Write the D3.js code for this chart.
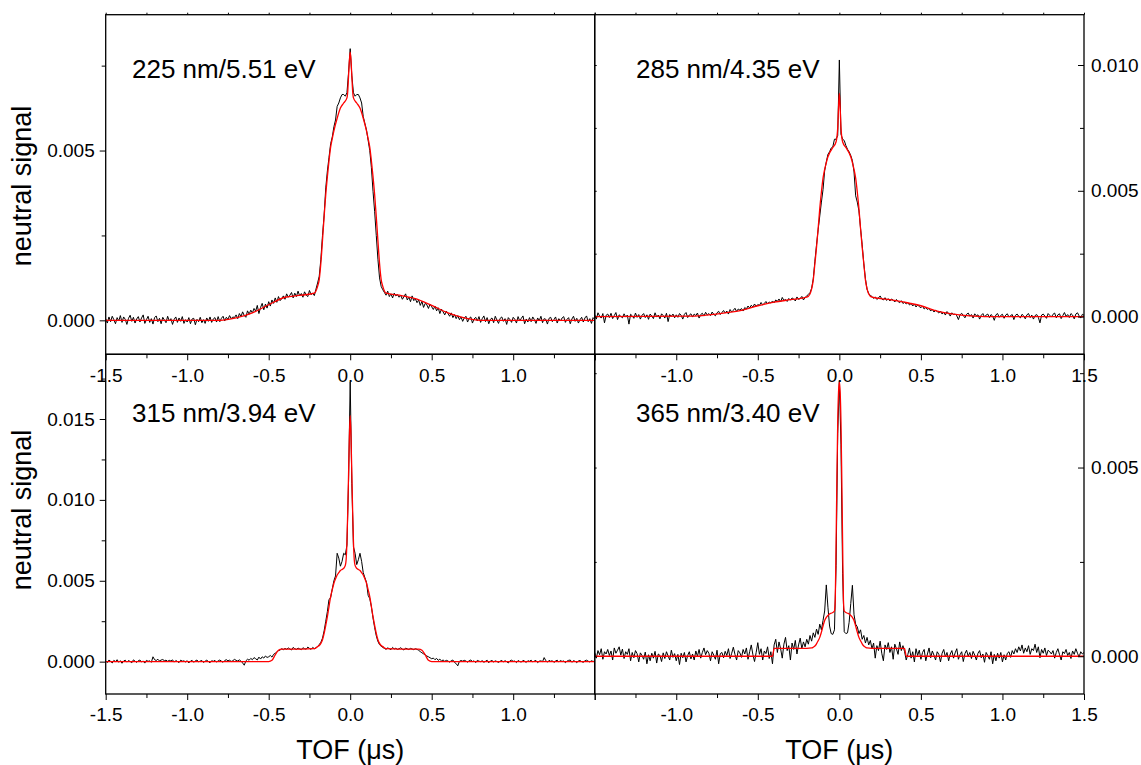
<!DOCTYPE html>
<html>
<head>
<meta charset="utf-8">
<script src="https://cdn.jsdelivr.net/npm/d3@7"></script>
<style>
  body { margin: 0; background: #fff; }
  svg { display: block; }
</style>
</head>
<body>
<svg id="chart" width="1141" height="765"></svg>
<script>
// TOF sampling times (µs), shared by the four measured traces
const tof = [
  -1.5,-1.49,-1.48,-1.47,-1.46,-1.45,-1.44,-1.43,-1.42,-1.41,
  -1.4,-1.39,-1.38,-1.37,-1.36,-1.35,-1.34,-1.33,-1.32,-1.31,
  -1.3,-1.29,-1.28,-1.27,-1.26,-1.25,-1.24,-1.23,-1.22,-1.21,
  -1.2,-1.19,-1.18,-1.17,-1.16,-1.15,-1.14,-1.13,-1.12,-1.11,
  -1.1,-1.09,-1.08,-1.07,-1.06,-1.05,-1.04,-1.03,-1.02,-1.01,
  -1.0,-0.99,-0.98,-0.97,-0.96,-0.95,-0.94,-0.93,-0.92,-0.91,
  -0.9,-0.89,-0.88,-0.87,-0.86,-0.85,-0.84,-0.83,-0.82,-0.81,
  -0.8,-0.79,-0.78,-0.77,-0.76,-0.75,-0.74,-0.73,-0.72,-0.71,
  -0.7,-0.69,-0.68,-0.67,-0.66,-0.65,-0.64,-0.63,-0.62,-0.61,
  -0.6,-0.59,-0.58,-0.57,-0.56,-0.55,-0.54,-0.53,-0.52,-0.51,
  -0.5,-0.49,-0.48,-0.47,-0.46,-0.45,-0.44,-0.43,-0.42,-0.41,
  -0.4,-0.39,-0.38,-0.37,-0.36,-0.35,-0.34,-0.33,-0.32,-0.31,
  -0.3,-0.29,-0.28,-0.27,-0.26,-0.25,-0.24,-0.23,-0.22,-0.21,
  -0.2,-0.19,-0.18,-0.17,-0.16,-0.15,-0.14,-0.13,-0.12,-0.11,
  -0.1,-0.09,-0.08,-0.07,-0.06,-0.05,-0.04,-0.03,-0.02,-0.01,
  0,
  0.01,0.02,0.03,0.04,0.05,0.06,0.07,0.08,0.09,0.1,
  0.11,0.12,0.13,0.14,0.15,0.16,0.17,0.18,0.19,0.2,
  0.21,0.22,0.23,0.24,0.25,0.26,0.27,0.28,0.29,0.3,
  0.31,0.32,0.33,0.34,0.35,0.36,0.37,0.38,0.39,0.4,
  0.41,0.42,0.43,0.44,0.45,0.46,0.47,0.48,0.49,0.5,
  0.51,0.52,0.53,0.54,0.55,0.56,0.57,0.58,0.59,0.6,
  0.61,0.62,0.63,0.64,0.65,0.66,0.67,0.68,0.69,0.7,
  0.71,0.72,0.73,0.74,0.75,0.76,0.77,0.78,0.79,0.8,
  0.81,0.82,0.83,0.84,0.85,0.86,0.87,0.88,0.89,0.9,
  0.91,0.92,0.93,0.94,0.95,0.96,0.97,0.98,0.99,1.0,
  1.01,1.02,1.03,1.04,1.05,1.06,1.07,1.08,1.09,1.1,
  1.11,1.12,1.13,1.14,1.15,1.16,1.17,1.18,1.19,1.2,
  1.21,1.22,1.23,1.24,1.25,1.26,1.27,1.28,1.29,1.3,
  1.31,1.32,1.33,1.34,1.35,1.36,1.37,1.38,1.39,1.4,
  1.41,1.42,1.43,1.44,1.45,1.46,1.47,1.48,1.49,1.5
];

// measured neutral signal, 225 nm
const sig225 = [
  0.00005,-0.00008,0.0001,-0.00004,0.00012,0.00002,-0.0001,0.00008,-0.00002,0.00014,
  -0.00006,0.0001,0.00003,-0.00012,0.00006,0.00015,-0.00003,0.00009,-0.00008,0.00004,
  0.00011,-0.00005,0.00007,0.00016,-0.00009,0.00002,0.00012,-0.00006,0.00005,-0.00011,
  0.00008,0.00013,-0.00004,0.00006,-0.0001,0.00009,0.00001,-0.00007,0.00012,-0.00002,
  0.00005,-0.00012,0.00003,0.0001,-0.00006,0.00007,-0.00003,0.00011,-0.00009,0.00002,
  -0.00005,0.00008,-0.0001,0.00004,0.00006,-0.00013,0.00003,-0.00004,0.00009,-0.00007,
  0.00002,-0.00009,0.00007,-0.00003,0.0001,-0.00006,0.00004,0.00008,-0.00005,0.00011,
  -0.00004,0.00006,0.00012,-0.00002,0.00009,0.00003,0.00014,0.00005,0.0001,0.00008,
  0.00016,0.00005,0.0002,0.00011,0.00025,0.00014,0.00009,0.00028,0.00018,0.0003,
  0.00022,0.00035,0.00027,0.00044,0.0002,0.00038,0.0005,0.00031,0.00048,0.00036,
  0.00055,0.00042,0.0006,0.0005,0.00066,0.00053,0.0007,0.00058,0.00064,0.00072,
  0.00062,0.00078,0.00068,0.00074,0.00082,0.00066,0.0008,0.0007,0.00086,0.00072,
  0.00079,0.00068,0.00084,0.00074,0.0007,0.00088,0.00076,0.0008,0.00073,0.00092,
  0.0011,0.0013,0.0018,0.0025,0.0031,0.0039,0.0044,0.0048,0.0052,0.0054,
  0.0057,0.0059,0.0063,0.0064,0.00655,0.00665,0.00665,0.0066,0.0067,0.0073,
  0.008,
  0.0072,0.0067,0.0066,0.00665,0.00665,0.00655,0.0064,0.006,0.0058,0.0056,
  0.0053,0.005,0.0045,0.0038,0.0032,0.0025,0.0018,0.00125,0.001,0.0009,
  0.00082,0.00074,0.00086,0.0007,0.00078,0.00066,0.0008,0.00072,0.00076,0.00068,
  0.00074,0.00062,0.0007,0.00078,0.0006,0.00068,0.00055,0.00072,0.00058,0.00063,
  0.00052,0.0006,0.00044,0.00056,0.00038,0.0005,0.00046,0.00035,0.00048,0.0004,
  0.00032,0.00042,0.00028,0.00037,0.0002,0.00033,0.00025,0.00016,0.00027,0.0002,
  0.00012,0.00022,0.00008,0.00017,0.00005,0.00014,0.00002,0.0001,-0.00003,0.00007,
  0.00012,-0.00005,0.00006,0.0001,-0.00008,0.00004,0.00009,-0.00002,0.00011,-0.00006,
  0.00005,0.00013,-0.00004,0.00008,-0.0001,0.00003,0.00007,-0.00007,0.00012,0.00001,
  -0.00009,0.00006,0.0001,-0.00003,0.00005,-0.00012,0.00008,0.00002,-0.00006,0.00009,
  0.00003,-0.00008,0.00011,-0.00002,0.00006,0.00013,-0.0001,0.00004,-0.00005,0.00008,
  -0.00004,0.0001,0.00002,-0.00009,0.00007,-0.00001,0.00012,-0.00007,0.00005,0.00003,
  -0.00011,0.00006,0.00009,-0.00004,0.00002,0.0001,-0.00008,0.00005,-0.00002,0.00007,
  0.00011,-0.00006,0.00003,0.00008,-0.0001,0.00004,0.00012,-0.00003,0.00006,-0.00008,
  0.00002,0.00009,-0.00005,0.00007,0.00013,-0.00004,0.00005,-0.00009,0.00008,0.00003
];

// measured neutral signal, 285 nm
const sig285 = [
  0.00008,-0.0001,0.00015,0.00002,-0.00006,0.00012,-0.00025,0.00005,0.0001,-0.00004,
  0.00013,-0.00008,0.00004,0.00016,-0.00012,0.00007,0.00001,-0.00005,0.00011,-0.00002,
  0.00006,-0.0003,0.00009,0.00003,-0.00007,0.00014,-0.00003,0.00008,-0.0001,0.00005,
  0.00012,-0.00004,0.00007,-0.00011,0.0001,0.00002,-0.00008,0.00015,-0.00002,0.00006,
  -0.00009,0.00011,0.00004,-0.00006,0.00013,-0.0002,0.00008,0.00001,0.0001,-0.00005,
  0.00007,-0.00003,0.00012,0.00005,-0.0001,0.00009,0.00016,-0.00004,0.00006,0.00011,
  -0.00002,0.0001,0.00004,0.00014,-0.00006,0.00008,0.00013,0.00002,0.00017,0.00006,
  0.00012,0.00004,0.00018,0.00009,0.00003,0.00015,0.00021,0.00008,0.00016,0.00024,
  0.00014,0.00022,0.0001,0.00028,0.00018,0.00025,0.00033,0.0002,0.0003,0.00026,
  0.00032,0.00022,0.00036,0.0003,0.00042,0.00034,0.00045,0.00038,0.0005,0.00041,
  0.00048,0.00044,0.00056,0.00046,0.00052,0.0006,0.0005,0.00058,0.00054,0.00062,
  0.00055,0.00066,0.0006,0.0007,0.00058,0.00076,0.00064,0.00068,0.0006,0.00072,
  0.00065,0.00074,0.0007,0.00062,0.00078,0.00068,0.00072,0.0008,0.00066,0.00076,
  0.00082,0.00088,0.00095,0.00112,0.0015,0.0022,0.00285,0.00345,0.004,0.00455,
  0.00505,0.0058,0.00615,0.00645,0.00655,0.0067,0.00675,0.00705,0.00705,0.0072,
  0.0102,
  0.00725,0.00705,0.007,0.0068,0.00665,0.00655,0.0064,0.0062,0.00575,0.0048,
  0.00455,0.0042,0.0035,0.00285,0.0021,0.0015,0.00108,0.00092,0.00084,0.0008,
  0.00072,0.00078,0.00068,0.00074,0.00082,0.0007,0.00066,0.00075,0.00064,0.00071,
  0.00062,0.0007,0.00065,0.00058,0.00068,0.0006,0.00055,0.00063,0.00052,0.00057,
  0.0005,0.00056,0.00046,0.00052,0.00042,0.0005,0.00038,0.00046,0.0004,0.00035,
  0.00042,0.0003,0.00036,0.00028,0.00033,0.00022,0.0003,0.00018,0.00025,0.0002,
  0.00014,0.00022,0.0001,0.00017,0.00006,0.0002,0.00012,0.00002,0.00015,0.00008,
  0.0001,0.00003,-0.00012,0.00007,0.00013,0.00004,-0.00005,0.00009,0.00014,0.00002,
  0.00008,-0.00006,0.00011,0.00003,0.00007,-0.0001,0.00005,0.00012,-0.00002,0.00006,
  0.0001,-0.00004,0.00008,0.00002,-0.00015,0.00007,0.00012,-0.00003,0.00005,0.00009,
  -0.00007,0.00006,0.00011,-0.00002,0.00004,0.00008,-0.00012,0.00005,0.0001,0.00001,
  -0.00005,0.00009,0.00003,-0.00009,0.00007,0.00012,-0.00004,0.00006,-0.0001,0.00004,
  0.00008,-0.00003,-0.00025,0.00006,0.0001,0.00002,-0.00007,0.00012,0.00005,-0.00002,
  0.00009,0.00014,-0.00005,0.00007,0.00011,-0.00008,0.00004,0.00016,0.00001,0.00008,
  -0.00004,0.00012,0.00006,-0.00009,0.0001,0.00015,0.00003,-0.00006,0.00009,0.00005
];

// measured neutral signal, 315 nm
const sig315 = [
  0.00005,-0.00006,0.0001,0.00002,-0.00008,0.00008,0,0.00012,-0.00004,0.00006,
  -0.0001,0.00004,0.00009,-0.00003,0.00007,0.00001,-0.00007,0.00011,0.00003,-0.00005,
  0.00006,0.0001,-0.00002,0.00004,-0.00009,0.00008,0.00002,0.00005,-0.00004,0.0003,
  0.00012,0.00007,0.00015,0.00004,0.0001,0.00013,0.00006,0.00009,0.00002,0.00008,
  0.00004,0.00011,-0.00003,0.00007,0.00001,-0.00006,0.00009,0.00003,0.00005,-0.00002,
  0.00006,-0.00008,0.00003,0.00008,-0.00004,0.00005,0.0001,-0.00002,0.00004,0.00007,
  -0.00005,0.00003,0.00009,0.00001,-0.00007,0.00006,0.00002,0.00008,-0.00003,0.00005,
  0.0001,0.00003,-0.00004,0.00007,0.00012,0.00005,0.00009,0.00001,0.00006,0.00014,
  0.00008,0.00004,0.00011,0.00003,-0.00008,-0.00022,0.00005,0.00015,0.00009,0.0002,
  0.00012,0.00025,0.00018,0.0001,0.00028,0.00016,0.0003,0.00022,0.00035,0.00026,
  0.0003,0.00038,0.00028,0.00045,0.00052,0.0006,0.00068,0.00072,0.0008,0.00074,
  0.00082,0.00076,0.00085,0.00078,0.00072,0.00088,0.0008,0.00075,0.00084,0.00079,
  0.00074,0.00086,0.0008,0.00077,0.0009,0.00082,0.00076,0.00088,0.0008,0.00085,
  0.00095,0.00105,0.0012,0.00145,0.0019,0.0025,0.0031,0.00385,0.00395,0.0045,
  0.005,0.0053,0.0067,0.0064,0.0059,0.0062,0.0067,0.0066,0.0072,0.0112,
  0.0173,
  0.011,0.0071,0.0067,0.006,0.0063,0.0067,0.0062,0.0055,0.0052,0.0049,
  0.0041,0.0039,0.0034,0.0027,0.0021,0.0016,0.00125,0.00105,0.00095,0.00088,
  0.00082,0.00076,0.00085,0.0008,0.00074,0.00088,0.00078,0.00083,0.00075,0.0008,
  0.00086,0.00077,0.00072,0.00084,0.00079,0.00075,0.00082,0.00078,0.00074,0.0008,
  0.00076,0.0007,0.00062,0.00055,0.00048,0.00042,0.00035,0.0003,0.00024,0.00018,
  0.00022,0.00012,0.0002,0.00008,0.00015,0.00005,0.0001,0.00002,0.00008,0.00004,
  -0.00003,0.00006,0.0001,-0.00005,-0.00012,-0.00026,0.00002,0.00007,0.00003,0.00008,
  0.00004,-0.00003,0.00006,0.0001,0.00001,0.00005,-0.00006,0.00008,0.00003,0,
  0.00006,-0.00004,0.00002,0.00009,-0.00007,0.00004,0.00007,-0.00002,0.00005,0.00001,
  -0.00005,0.00003,0.00008,-0.00002,0.00006,0,-0.00008,0.00005,0.00009,0.00002,
  0.00004,-0.00006,0.00007,0.00001,-0.00003,0.00008,0.00003,-0.00005,0.00006,0.00002,
  0.00009,-0.00002,0.00004,0.00007,-0.00006,0.00003,0.00005,0,0.00025,0.00006,
  -0.00003,0.00008,0.00002,0.00006,-0.00005,0.00004,0.00009,-0.00002,0.00007,0.00001,
  0.00005,-0.00007,0.00003,0.00008,0.0001,-0.00004,0.00006,0.00002,-0.00006,0.00004,
  0.00007,0,-0.00004,0.00005,0.00009,0.00003,-0.00002,0.00006,0.00001,0.00004
];

// measured neutral signal, 365 nm
const sig365 = [
  0.0001,-0.00005,0.00015,0.00004,0.0002,-0.00008,0.00012,0.00006,0.00018,0.00002,
  0.00014,-0.0001,0.00022,0.00008,0.00016,0.00025,0.00003,0.00019,-0.00006,0.00012,
  0.00005,0.0002,-0.00012,0.0001,-0.00004,0.00015,0.00007,-0.00015,0.00009,0.00002,
  -0.00008,0.00011,-0.0002,0.00004,-0.00012,0.00008,-0.00005,0.00013,-0.00018,0.00006,
  0.00002,-0.00014,0.00009,-0.00006,0.00012,0.00001,-0.0001,0.00016,-0.00003,0.00007,
  -0.00012,0.00005,-0.00022,0.00008,-0.00004,0.0001,-0.00015,0.00002,0.00012,-0.00007,
  0.00006,-0.0001,0.00014,0,0.00018,-0.00005,0.0001,0.00022,0.00004,0.00015,
  0.00008,-0.00012,0.00012,0.00003,-0.00008,0.00016,-0.0002,0.00007,0.0001,-0.00004,
  0.00013,0.00002,0.0002,-0.00006,0.00008,0.00024,0.00005,-0.0001,0.00015,0.00009,
  -0.00003,0.00018,0.00006,0.00022,-0.00008,0.00012,0.0003,0.00004,-0.00014,0.0001,
  0.00036,0.00005,0.0002,-0.0001,0.00014,0.00007,0.00025,-0.00006,0.00012,-0.0002,
  0.0003,0.00045,0.0001,0.00038,0.0002,-0.00005,0.00032,0.0005,0.00015,0.00028,
  -0.0001,0.00035,0.00018,0.00042,0.00006,0.0003,0.00048,0.0002,0.00038,0.00025,
  0.00045,0.00032,0.00055,0.0004,0.00062,0.0005,0.00072,0.00058,0.00085,0.0007,
  0.00095,0.0012,0.00189,0.0013,0.0008,0.0006,0.00058,0.0007,0.0024,0.0059,
  0.0073,
  0.0056,0.0022,0.00065,0.0006,0.00062,0.0009,0.0014,0.00188,0.0011,0.00085,
  0.00078,0.0006,0.0007,0.00045,0.00055,0.00035,0.0005,0.0003,0.00042,0.0002,
  0.00035,-0.00005,0.00028,0.00015,0.0004,0.00008,-0.00012,0.0003,0.00018,0.00036,
  0.0001,0.00025,-0.00008,0.00032,0.0002,0.00005,0.00038,0.00015,0.00028,0.00012,
  -0.0001,0.00005,0.00022,-0.00005,0.00012,-0.00015,0.0002,0.00002,0.00016,-0.00008,
  0.0001,0.00018,-0.00012,0.00006,0.00022,-0.00004,0.00014,0.00003,-0.0001,0.00012,
  0.00005,-0.00015,0.00008,0.00018,-0.00002,0.0001,-0.00012,0.00006,0.00015,-0.00005,
  0.00009,0.0002,-0.00008,0.00004,0.00012,-0.00014,0.00007,0.00016,0,0.0001,
  -0.00006,0.00013,0.00003,-0.0001,0.00008,0.00015,-0.00004,0.00006,-0.00016,0.0001,
  0.00002,-0.00008,0.00012,-0.0002,0.00005,-0.00012,0.00008,-0.00005,0.0001,-0.00015,
  0.00004,-0.0001,0.00008,0.00012,-0.00003,0.00015,0.00006,0.0002,0.0001,0.00025,
  0.00014,0.0003,0.00008,0.00022,0.00012,0.00028,0.00005,0.0002,0.00015,0.00032,
  0.0001,0.00025,-0.00004,0.00018,0.00008,0.00022,0.00002,0.00016,0.00012,0.00006,
  0.00015,-0.00005,0.0001,0.0002,0.00004,-0.0001,0.00012,0.00007,0.00018,0.00002,
  0.0001,-0.00006,0.00014,0.00005,0.0002,0.00008,-0.00002,0.00012,0.00006,0.0001
];

// fitted curves: TOF points where the fit was read, and the fit value there
const fitTof225 = [-1.5,-0.8,-0.7,-0.6,-0.5,-0.4,-0.3,-0.22,-0.2,
  -0.19,-0.18,-0.17,-0.16,-0.15,-0.14,-0.13,-0.12,-0.11,-0.1,
  -0.08,-0.06,-0.04,-0.02,-0.015,-0.01,-0.005,0,0.005,0.01,0.015,0.02,0.04,0.06,0.08,
  0.1,0.11,0.12,0.13,0.14,0.15,0.16,0.17,0.18,0.19,
  0.2,0.22,0.3,0.4,0.5,0.6,0.7,0.8,1.5];
const fit225 = [0,0,0.00007,0.00022,0.00046,0.00068,0.00074,0.0008,0.001,
  0.0012,0.00168,0.00235,0.00305,0.0037,0.00423,0.0047,0.0051,0.00535,0.00558,
  0.00595,0.00625,0.0064,0.00655,0.00675,0.0072,0.00765,0.0079,0.00765,0.0072,0.00675,0.00655,0.0064,0.00625,0.00595,
  0.00558,0.00535,0.0051,0.0047,0.00423,0.0037,0.00305,0.00235,0.00168,0.0012,
  0.001,0.0008,0.00074,0.00064,0.00044,0.00022,0.00007,0,0];

const fitTof285 = [-1.5,-0.9,-0.8,-0.7,-0.6,-0.5,-0.4,-0.3,-0.2,
  -0.18,-0.17,-0.16,-0.15,-0.14,-0.13,-0.12,-0.11,-0.1,-0.09,-0.08,-0.07,-0.06,
  -0.04,-0.02,-0.01,-0.005,0,0.005,0.01,0.02,0.04,
  0.06,0.07,0.08,0.09,0.1,0.11,0.12,0.13,0.14,0.15,0.16,0.17,0.18,
  0.2,0.3,0.4,0.5,0.6,0.7,0.8,0.9,1.5];
const fit285 = [0,0.00002,0.00007,0.00015,0.00025,0.00043,0.00057,0.00067,0.00077,
  0.0009,0.0011,0.00145,0.0021,0.00275,0.0035,0.0043,0.00495,0.0055,0.00585,0.00612,0.00635,0.0065,
  0.00672,0.00695,0.0075,0.0083,0.00888,0.0083,0.0075,0.00695,0.00672,
  0.0065,0.00635,0.00612,0.00585,0.0055,0.00495,0.0043,0.0035,0.00275,0.0021,0.00145,0.0011,0.0009,
  0.00077,0.00068,0.00057,0.00043,0.00022,0.0001,0.00003,0,0];

const fitTof315 = [-1.5,-0.5,-0.48,-0.46,-0.44,-0.42,-0.3,-0.22,-0.2,
  -0.19,-0.18,-0.17,-0.16,-0.15,-0.14,-0.13,-0.12,-0.11,-0.1,-0.09,-0.08,-0.07,-0.06,-0.05,-0.04,-0.03,
  -0.025,-0.02,-0.015,-0.01,-0.005,0,0.005,0.01,0.015,0.02,0.025,
  0.03,0.04,0.05,0.06,0.07,0.08,0.09,0.1,0.11,0.12,0.13,0.14,0.15,0.16,0.17,0.18,0.19,
  0.2,0.22,0.3,0.42,0.44,0.46,0.48,0.5,1.5];
const fit315 = [0,0,0.00008,0.00042,0.0007,0.00078,0.00078,0.0008,0.00093,
  0.001,0.00113,0.00135,0.00175,0.00225,0.00278,0.0034,0.00402,0.00445,0.00485,0.00512,0.00536,0.0055,0.00563,0.0057,0.00577,0.00595,
  0.0063,0.0074,0.0093,0.0116,0.0139,0.0152,0.0139,0.0116,0.0093,0.0074,0.0063,
  0.00595,0.00577,0.0057,0.00563,0.0055,0.00536,0.00512,0.00485,0.00445,0.00402,0.0034,0.00278,0.00225,0.00175,0.00135,0.00113,0.001,
  0.00093,0.0008,0.00078,0.00078,0.0007,0.00042,0.00008,0,0];

const fitTof365 = [-1.5,-0.41,-0.405,-0.4,-0.3,-0.2,
  -0.17,-0.16,-0.15,-0.14,-0.13,-0.12,-0.11,-0.1,-0.09,-0.08,-0.07,-0.06,-0.05,-0.04,-0.03,
  -0.025,-0.02,-0.015,-0.01,-0.005,0,0.005,0.01,0.015,0.02,0.025,
  0.03,0.04,0.05,0.06,0.07,0.08,0.09,0.1,0.11,0.12,0.13,0.14,0.15,0.16,0.17,
  0.2,0.3,0.4,0.405,0.41,1.5];
const fit365 = [0,0,0.0001,0.00021,0.00021,0.00021,
  0.00022,0.00024,0.00027,0.00033,0.00041,0.0005,0.00064,0.0008,0.00095,0.00103,0.00108,0.00112,0.00114,0.00116,0.0012,
  0.0015,0.003,0.0047,0.0062,0.007,0.00727,0.007,0.0062,0.0047,0.003,0.0015,
  0.0012,0.00116,0.00114,0.00112,0.00108,0.00103,0.00095,0.0008,0.00064,0.0005,0.00041,0.00033,0.00027,0.00024,0.00022,
  0.00021,0.00021,0.00021,0.0001,0,0];

// axis settings
const tofDomain = [-1.5, 1.5];
const xMajor = [-1.5, -1.0, -0.5, 0.0, 0.5, 1.0, 1.5];
const xMinor = [-1.25, -0.75, -0.25, 0.25, 0.75, 1.25];
const xLabelsLeft = [-1.5, -1.0, -0.5, 0.0, 0.5, 1.0];
const xLabelsRight = [-1.0, -0.5, 0.0, 0.5, 1.0, 1.5];
const yMajor = [0, 0.005, 0.01, 0.015];
const yMinor = [0.0025, 0.0075, 0.0125, 0.0175];
const yDomain225 = [-0.001, 0.009];
const yDomain285 = [-0.0015, 0.012];
const yDomain315 = [-0.002, 0.019];
const yDomain365 = [-0.001, 0.008];
const panelLabels = ["225 nm/5.51 eV", "285 nm/4.35 eV", "315 nm/3.94 eV", "365 nm/3.40 eV"];

const font = '"Liberation Sans", Arial, Helvetica, sans-serif';
const svg = d3.select("#chart");

// panel frames in pixels: columns and rows
const colX = [[105.7, 594.7], [594.7, 1084]];
const rowY = [[14.7, 354.3], [354.3, 694]];

const panels = [
  { t: tof, s: sig225, ft: fitTof225, f: fit225, yd: yDomain225, label: panelLabels[0], col: 0, row: 0 },
  { t: tof, s: sig285, ft: fitTof285, f: fit285, yd: yDomain285, label: panelLabels[1], col: 1, row: 0 },
  { t: tof, s: sig315, ft: fitTof315, f: fit315, yd: yDomain315, label: panelLabels[2], col: 0, row: 1 },
  { t: tof, s: sig365, ft: fitTof365, f: fit365, yd: yDomain365, label: panelLabels[3], col: 1, row: 1 }
];

const layers = {
  data: svg.append("g"),
  axes: svg.append("g"),
  frames: svg.append("g"),
  text: svg.append("g")
};

function styleAxis(sel) {
  sel.select(".domain").remove();
  sel.attr("font-size", 19).attr("font-family", font);
  sel.selectAll(".tick line").attr("stroke-width", 1);
}

panels.forEach((p, i) => {
  const [x0, x1] = colX[p.col];
  const [y0, y1] = rowY[p.row];
  const x = d3.scaleLinear().domain(tofDomain).range([x0, x1]);
  const y = d3.scaleLinear().domain(p.yd).range([y1, y0]);

  svg.append("clipPath").attr("id", "clip" + i)
    .append("rect").attr("x", x0).attr("y", y0).attr("width", x1 - x0).attr("height", y1 - y0);

  const g = layers.data.append("g").attr("clip-path", `url(#clip${i})`);

  // measured trace
  g.append("path")
    .datum(d3.zip(p.t, p.s))
    .attr("fill", "none")
    .attr("stroke", "#000")
    .attr("stroke-width", 1)
    .attr("stroke-linejoin", "round")
    .attr("d", d3.line().x(d => x(d[0])).y(d => y(d[1])));

  // fit
  g.append("path")
    .datum(d3.zip(p.ft, p.f))
    .attr("fill", "none")
    .attr("stroke", "#ff0000")
    .attr("stroke-width", 1.3)
    .attr("d", d3.line().curve(d3.curveMonotoneX).x(d => x(d[0])).y(d => y(d[1])));

  // bottom axis, major and minor ticks
  const shown = p.col === 0 ? xLabelsLeft : xLabelsRight;
  const bx = layers.axes.append("g").attr("transform", `translate(0,${y1})`)
    .call(d3.axisBottom(x).tickValues(xMajor).tickSize(6).tickPadding(8)
      .tickFormat(d => shown.includes(d) ? d.toFixed(1) : ""));
  styleAxis(bx);
  const bxm = layers.axes.append("g").attr("transform", `translate(0,${y1})`)
    .call(d3.axisBottom(x).tickValues(xMinor).tickSize(4).tickFormat(""));
  styleAxis(bxm);

  // tiny mirror ticks along the top of the upper panels
  if (p.row === 0) {
    const tx = layers.axes.append("g").attr("transform", `translate(0,${y0})`)
      .call(d3.axisTop(x).tickValues(xMajor.concat(xMinor)).tickSize(2).tickFormat(""));
    styleAxis(tx);
  }

  const yM = yMajor.filter(v => v >= p.yd[0] && v <= p.yd[1]);
  const ym = yMinor.filter(v => v >= p.yd[0] && v <= p.yd[1]);

  if (p.col === 0) {
    const ly = layers.axes.append("g").attr("transform", `translate(${x0},0)`)
      .call(d3.axisLeft(y).tickValues(yM).tickSize(6).tickPadding(5).tickFormat(d => d.toFixed(3)));
    styleAxis(ly);
    const lym = layers.axes.append("g").attr("transform", `translate(${x0},0)`)
      .call(d3.axisLeft(y).tickValues(ym).tickSize(4).tickFormat(""));
    styleAxis(lym);
  } else {
    // right axis: ticks point into the plot
    const ry = layers.axes.append("g").attr("transform", `translate(${x1},0)`)
      .call(d3.axisRight(y).tickValues(yM).tickSize(-6).tickPadding(7).tickFormat(d => d.toFixed(3)));
    styleAxis(ry);
    const rym = layers.axes.append("g").attr("transform", `translate(${x1},0)`)
      .call(d3.axisRight(y).tickValues(ym).tickSize(-4).tickFormat(""));
    styleAxis(rym);
    // tiny mirror ticks on the shared middle line
    const my = layers.axes.append("g").attr("transform", `translate(${x0},0)`)
      .call(d3.axisRight(y).tickValues(yM.concat(ym)).tickSize(2).tickFormat(""));
    styleAxis(my);
  }

  layers.frames.append("rect")
    .attr("x", x0).attr("y", y0)
    .attr("width", x1 - x0).attr("height", y1 - y0)
    .attr("fill", "none")
    .attr("stroke", "#000")
    .attr("stroke-width", 1.3);

  layers.text.append("text")
    .attr("x", p.col === 0 ? 132 : 636)
    .attr("y", p.row === 0 ? 78 : 422)
    .attr("font-family", font)
    .attr("font-size", 26)
    .text(p.label);

  if (p.col === 0) {
    layers.text.append("text")
      .attr("transform", `translate(31,${p.row === 0 ? 186 : 510}) rotate(-90)`)
      .attr("text-anchor", "middle")
      .attr("font-family", font)
      .attr("font-size", 27)
      .text("neutral signal");
  }

  if (p.row === 1) {
    layers.text.append("text")
      .attr("x", x(0))
      .attr("y", 759)
      .attr("text-anchor", "middle")
      .attr("font-family", font)
      .attr("font-size", 27)
      .text("TOF (μs)");
  }
});
</script>
</body>
</html>
